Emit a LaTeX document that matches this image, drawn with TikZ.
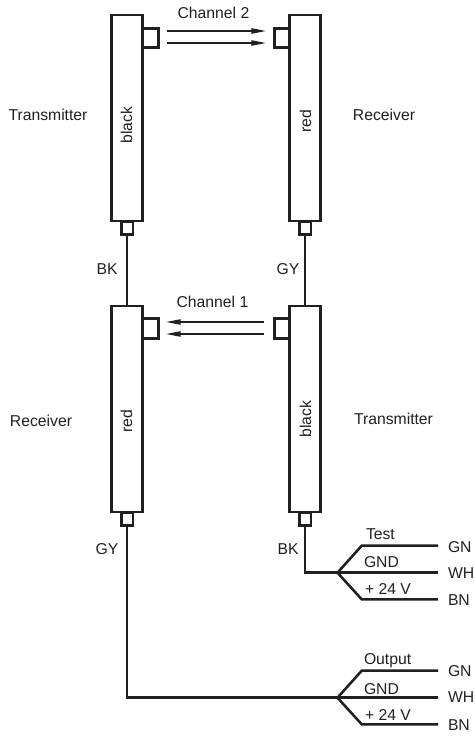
\documentclass[tikz,border=0pt]{standalone}
\usepackage{fontspec}
\setmainfont{Liberation Sans}
\usetikzlibrary{arrows.meta}
\definecolor{ink}{HTML}{231F20}
\tikzset{
  x=0.75pt,y=-0.75pt,
  every node/.style={inner sep=0pt,outer sep=0pt,text=ink},
  txt/.style={font=\fontsize{11.8}{14}\selectfont},
  bar/.style={draw=ink,line width=2.2pt,fill=white,minimum width=23.2pt,minimum height=154.5pt},
  sidebox/.style={draw=ink,line width=2.2pt,fill=white,minimum width=11.6pt,minimum height=14.6pt},
  endbox/.style={draw=ink,line width=2pt,fill=white,minimum width=8.6pt,minimum height=10pt},
  wire/.style={draw=ink,line width=1.9pt},
  beam/.style={draw=ink,line width=1pt,-{Stealth[length=11pt,width=4pt,inset=0pt]}},
}
\begin{document}
\begin{tikzpicture}
\useasboundingbox (0,0) rectangle (475,736);
\node[sidebox] (sA) at (150.5,38) {};
\node[sidebox] (sB) at (282,38) {};
\node[sidebox] (sC) at (150.5,328.5) {};
\node[sidebox] (sD) at (282,328.5) {};
\node[endbox] (eA) at (127.2,228) {};
\node[endbox] (eB) at (305.2,228) {};
\node[endbox] (eC) at (127.2,519) {};
\node[endbox] (eD) at (305.2,519) {};
\node[bar] (A) at (127.2,118) {};
\node[bar] (B) at (305.2,118) {};
\node[bar] (C) at (127.2,409) {};
\node[bar] (D) at (305.2,409) {};
\node[txt,rotate=90] at (126.5,125) {black};
\node[txt,rotate=90] at (305.5,121) {red};
\node[txt,rotate=90] at (126.5,421) {red};
\node[txt,rotate=90] at (305.5,419) {black};
\draw[wire] (eA.south) -- (C.north);
\draw[wire] (eB.south) -- (D.north);
% channel beams
\coordinate (b1s) at (167,31);   \coordinate (b1e) at (266,31);
\coordinate (b2s) at (167,43);   \coordinate (b2e) at (266,43);
\coordinate (b3s) at (264,322);  \coordinate (b3e) at (166,322);
\coordinate (b4s) at (264,334);  \coordinate (b4e) at (166,334);
\draw[beam] (b1s) -- (b1e);
\draw[beam] (b2s) -- (b2e);
\draw[beam] (b3s) -- (b3e);
\draw[beam] (b4s) -- (b4e);
% upper cable
\coordinate (f1) at (337.5,572.7);
\coordinate (k1a) at (361.7,545.7); \coordinate (k1c) at (361.7,599.3);
\coordinate (t1a) at (438,545.7); \coordinate (t1b) at (438,572.7); \coordinate (t1c) at (438,599.3);
\draw[wire,line join=miter] (eD.south) |- (f1) -- (t1b);
\draw[wire] (f1) -- (k1a) -- (t1a);
\draw[wire] (f1) -- (k1c) -- (t1c);
% lower cable
\coordinate (f2) at (337.5,697.7);
\coordinate (k2a) at (361.7,670.7); \coordinate (k2c) at (361.7,724.3);
\coordinate (t2a) at (438,670.7); \coordinate (t2b) at (438,697.7); \coordinate (t2c) at (438,724.3);
\draw[wire,line join=miter] (eC.south) |- (f2) -- (t2b);
\draw[wire] (f2) -- (k2a) -- (t2a);
\draw[wire] (f2) -- (k2c) -- (t2c);
% labels
\node[txt] at (213.5,13) {Channel 2};
\node[txt] at (212.5,302) {Channel 1};
\node[txt] at (48,115) {Transmitter};
\node[txt] at (384,115) {Receiver};
\node[txt] at (41,421) {Receiver};
\node[txt] at (393.5,419) {Transmitter};
\node[txt] at (107,269) {BK};
\node[txt] at (288,269) {GY};
\node[txt] at (107,549) {GY};
\node[txt] at (288,549) {BK};
\node[txt,anchor=west] at (366,534) {Test};
\node[txt,anchor=west] at (364,562) {GND};
\node[txt,anchor=west] at (365,589) {+ 24 V};
\node[txt,anchor=west] at (364,661) {Output};
\node[txt,anchor=west] at (364,689) {GND};
\node[txt,anchor=west] at (365,715) {+ 24 V};
\node[txt,anchor=west] at (448,547) {GN};
\node[txt,anchor=west] at (448,573) {WH};
\node[txt,anchor=west] at (448,600) {BN};
\node[txt,anchor=west] at (448,671) {GN};
\node[txt,anchor=west] at (448,697) {WH};
\node[txt,anchor=west] at (448,725) {BN};
\end{tikzpicture}
\end{document}
